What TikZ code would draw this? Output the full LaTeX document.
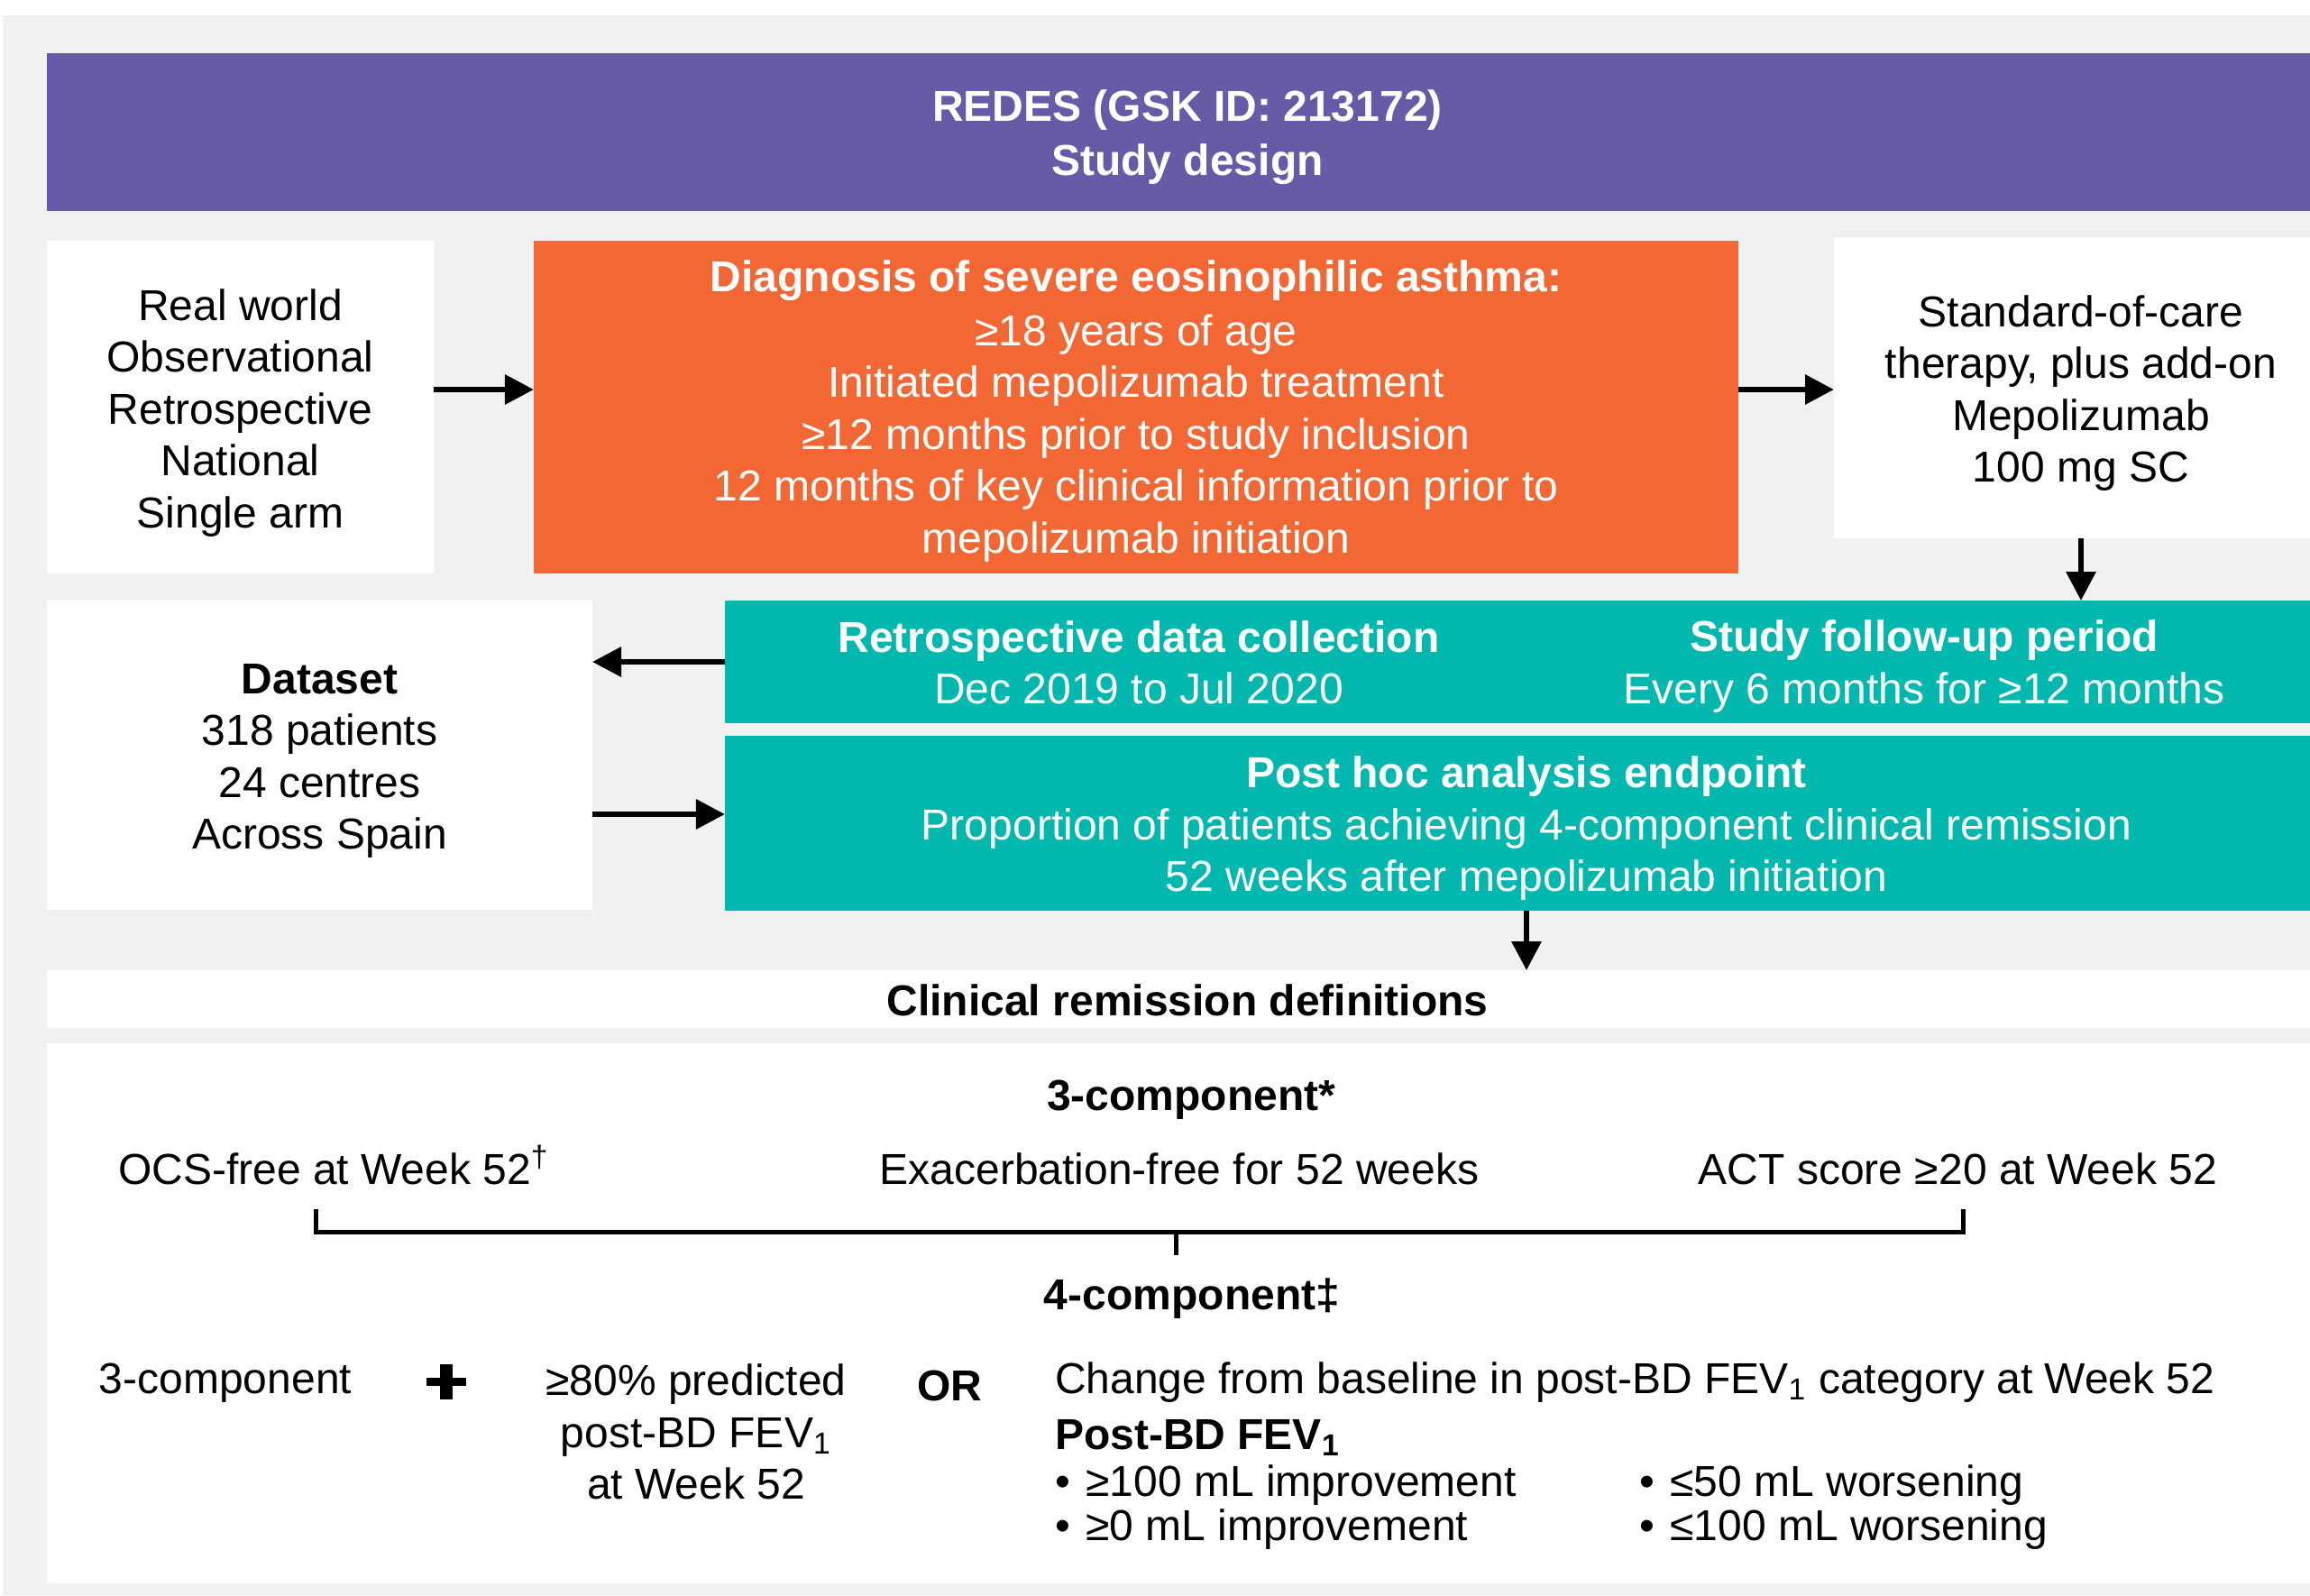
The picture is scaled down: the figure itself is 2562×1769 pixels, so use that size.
\documentclass[tikz,border=0pt]{standalone}
\usepackage{fontspec}
\setmainfont{Liberation Sans}
\usetikzlibrary{arrows.meta}
\definecolor{bggray}{HTML}{F1F1F1}
\definecolor{purp}{HTML}{675AA7}
\definecolor{orng}{HTML}{F36735}
\definecolor{tealb}{HTML}{00B8AE}
\begin{document}
\begin{tikzpicture}[x=0.4pt,y=-0.4pt,
  box/.style={inner sep=0pt, outer sep=0pt, draw=none, align=center,
    font=\fontsize{19.2}{23}\selectfont},
  txt/.style={inner sep=0pt, outer sep=0pt, align=center,
    font=\fontsize{19.2}{23}\selectfont},
  btxt/.style={inner sep=0pt, outer sep=0pt, align=center,
    font=\fontsize{19.2}{23}\selectfont\bfseries},
  arr/.style={line width=2.5pt, -{Triangle[length=12.8pt,width=12.8pt]}},
  brk/.style={line width=2pt}]
\useasboundingbox (0,0) rectangle (2562,1769);
\clip (0,0) rectangle (2562,1769);
\fill[white] (0,0) rectangle (2562,1769);
\fill[bggray] (3,17) rectangle (2562,1769);

% title band
\node[box, fill=purp, minimum width=1012pt, minimum height=70pt] (title) at (1317,146) {};
\node[btxt, text=white, font=\fontsize{19.2}{24}\selectfont\bfseries] (titletxt) at (1317,152)
  {REDES (GSK ID: 213172)\\Study design};

% row 1
\node[box, fill=white, minimum width=171.6pt, minimum height=147.6pt] (real) at (266.5,451.5) {};
\node[txt] (realtxt) at (266.5,458)
  {Real world\\Observational\\Retrospective\\National\\Single arm};
\node[box, fill=orng, minimum width=534.4pt, minimum height=147.6pt] (diag) at (1260,451.5) {};
\node[txt, text=white] (diagtxt) at (1260,456)
  {\textbf{Diagnosis of severe eosinophilic asthma:}\\[1pt]≥18 years of age\\Initiated mepolizumab treatment\\≥12 months prior to study inclusion\\12 months of key clinical information prior to\\mepolizumab initiation};
\node[box, fill=white, minimum width=219.2pt, minimum height=133.6pt] (soc) at (2308,430) {};
\node[txt] (soctxt) at (2308,436)
  {Standard-of-care\\therapy, plus add-on\\Mepolizumab\\100 mg SC};

% row 2
\node[box, fill=white, minimum width=242pt, minimum height=137.6pt] (dataset) at (354.5,837) {};
\node[txt] (datatxt) at (354.5,844)
  {\textbf{Dataset}\\318 patients\\24 centres\\Across Spain};
\node[box, fill=tealb, minimum width=711.2pt, minimum height=54.4pt] (retro) at (1693,734) {};
\node[txt, text=white] (retrotxt) at (1263,735)
  {\textbf{Retrospective data collection}\\Dec 2019 to Jul 2020};
\node[txt, text=white] (followtxt) at (2134,739)
  {\textbf{Study follow-up period}\\Every 6 months for ≥12 months};
\node[box, fill=tealb, minimum width=711.2pt, minimum height=77.6pt] (posthoc) at (1693,913) {};
\node[txt, text=white] (posthoctxt) at (1693,919)
  {\textbf{Post hoc analysis endpoint}\\Proportion of patients achieving 4-component clinical remission\\52 weeks after mepolizumab initiation};

% definitions
\node[box, fill=white, minimum width=1012pt, minimum height=25.6pt] (crd) at (1317,1108) {};
\node[btxt] (crdtxt) at (1317,1109) {Clinical remission definitions};
\node[box, fill=white, minimum width=1012pt, minimum height=239.6pt] (lower) at (1317,1456.5) {};

% arrows
\coordinate (ay) at (0,432);
\coordinate (by) at (0,903);
\draw[arr] (real.east |- ay) -- (diag.west |- ay);
\draw[arr] (diag.east |- ay) -- (soc.west |- ay);
\draw[arr] (soc.south) -- (soc.south |- retro.north);
\draw[arr] (retro.west) -- (dataset.east |- retro.west);
\draw[arr] (dataset.east |- by) -- (posthoc.west |- by);
\draw[arr] (posthoc.south) -- (posthoc.south |- crd.north);

% 3-component
\node[btxt, anchor=base] (three) at (1321,1231) {3-component*};
\node[txt, anchor=base west] (ocs) at (131,1313) {OCS-free at Week 52\textsuperscript{†}};
\node[txt, anchor=base] (exac) at (1308,1313) {Exacerbation-free for 52 weeks};
\node[txt, anchor=base east] (act) at (2459,1313) {ACT score ≥20 at Week 52};

% bracket
\coordinate (bl) at (350,1341);
\coordinate (br) at (2177,1341);
\coordinate (bm) at (1304,1366);
\coordinate (bmd) at (1304,1392);
\draw[brk] (bl) -- (bl |- bm) -- (br |- bm) -- (br);
\draw[brk] (bm) -- (bmd);

% 4-component
\node[btxt, anchor=base] (four) at (1322,1452) {4-component‡};
\node[txt, anchor=base] (threec) at (250,1545) {3-component};
\fill (473,1528) rectangle (517,1537);
\fill (488,1513) rectangle (502,1552);
\node[txt] (pred) at (772,1588)
  {≥80\% predicted\\post-BD FEV\textsubscript{1}\\at Week 52};
\node[btxt, anchor=base] (or) at (1053,1553) {OR};
\node[txt, anchor=base west] (change) at (1170,1545)
  {Change from baseline in post-BD FEV\textsubscript{1} category at Week 52};
\node[btxt, anchor=base west] (postbd) at (1170,1607) {Post-BD FEV\textsubscript{1}};
\node[txt, anchor=base west] (b1) at (1170,1659) {•\hspace{7pt}≥100 mL improvement};
\node[txt, anchor=base west] (b2) at (1170,1708) {•\hspace{7pt}≥0 mL improvement};
\node[txt, anchor=base west] (b3) at (1818,1659) {•\hspace{7pt}≤50 mL worsening};
\node[txt, anchor=base west] (b4) at (1818,1708) {•\hspace{7pt}≤100 mL worsening};
\end{tikzpicture}
\end{document}
